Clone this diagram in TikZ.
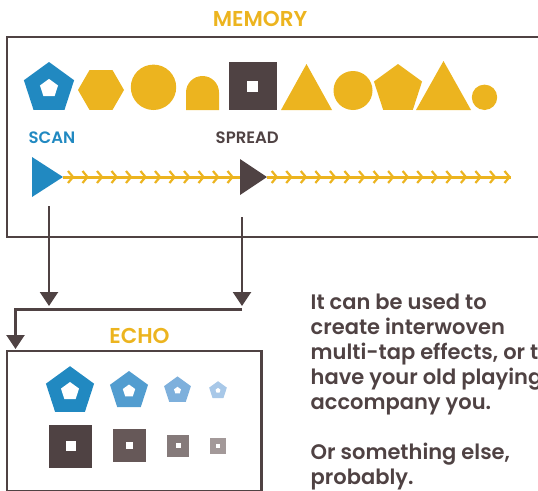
\documentclass[tikz,border=0pt]{standalone}
\usepackage{fontspec}
\setmainfont{Poppins}[BoldFont=Poppins SemiBold]
\usetikzlibrary{shapes.geometric,arrows.meta}

\definecolor{gold}{RGB}{236,180,31}
\definecolor{azure}{RGB}{33,137,193}
\definecolor{azureB}{RGB}{82,157,208}
\definecolor{azureC}{RGB}{126,176,220}
\definecolor{azureD}{RGB}{168,200,232}
\definecolor{umber}{RGB}{79,66,67}
\definecolor{umberB}{RGB}{102,88,88}
\definecolor{umberC}{RGB}{133,122,122}
\definecolor{umberD}{RGB}{163,153,153}

\tikzset{
  frame/.style={draw=umber, line width=2.5pt, inner sep=0pt, outer sep=0pt, anchor=north west},
  heading/.style={font=\bfseries\fontsize{21.5}{21.5}\selectfont, text=gold, inner sep=0pt, anchor=base},
  tag/.style={font=\bfseries\fontsize{16.5}{16.5}\selectfont, inner sep=0pt, anchor=base west},
  pent/.style={regular polygon, regular polygon sides=5, draw=none, inner sep=0pt, outer sep=0pt},
  hexa/.style={regular polygon, regular polygon sides=6, draw=none, inner sep=0pt, outer sep=0pt},
  blob/.style={circle, draw=none, inner sep=0pt, outer sep=0pt},
  sq/.style={rectangle, draw=none, inner sep=0pt, outer sep=0pt},
  conn/.style={draw=umber, line width=2.5pt, line join=miter,
    -{Triangle[length=14pt,width=18pt]}},
  flow/.style={draw=gold, line width=3pt},
  chev/.style={draw=gold, line width=2.2pt, line join=miter},
}

\begin{document}
\begin{tikzpicture}[x=1pt,y=-1pt]
\useasboundingbox (0,0) rectangle (538,490);
\clip (0,0) rectangle (538,490);

% ---------- MEMORY ----------
\node[heading] (memtitle) at (260,26) {MEMORY};
\node[frame, minimum width=563pt, minimum height=200pt] (memory) at (7,37) {};

% stored items, all sitting on one base line
\node[pent, minimum size=52.8pt, fill=azure] (m1) at (49,88.4) {};
\node[pent, minimum size=19pt, fill=white] (m1h) at (49,88.4) {};
\node[hexa, minimum size=46pt, fill=gold] (m2) at (101,90) {};
\node[blob, minimum size=45.4pt, fill=gold] (m3) at (153.5,87.3) {};
\fill[gold] (186,110) -- (186,92.5) arc (180:360:16.5) -- (219,110) -- cycle;
\node[sq, minimum size=48pt, fill=umber] (m5) at (252.5,86) {};
\node[sq, minimum size=11pt, fill=white] (m5h) at (252.5,86) {};
\fill[gold] (281,110) -- (306.5,64) -- (332,110) -- cycle;
\node[blob, minimum size=39pt, fill=gold] (m7) at (353,90.5) {};
\node[pent, minimum size=50.6pt, fill=gold] (m8) at (398,89.3) {};
\fill[gold] (416,110) -- (443.5,61) -- (471,110) -- cycle;
\node[blob, minimum size=25.4pt, fill=gold] (m10) at (484.5,97.3) {};

% ---------- read heads and tape ----------
\node[tag, text=azure] (scanlbl) at (28.5,143) {SCAN};
\node[tag, text=umber] (spreadlbl) at (215.5,143) {SPREAD};

\coordinate (scantip) at (63,177);
\coordinate (spreadback) at (240,177);
\coordinate (spreadtip) at (267,177);
\coordinate (tapeend) at (511,177);

\draw[flow] (scantip) -- (spreadback);
\draw[flow] (spreadtip) -- (tapeend);
\foreach \k in {0,...,11}
  \draw[chev] ({73+14.5*\k-5},171) -- ({73+14.5*\k},177) -- ({73+14.5*\k-5},183);
\foreach \k in {0,...,16}
  \draw[chev] ({276.7+14.55*\k-5},171) -- ({276.7+14.55*\k},177) -- ({276.7+14.55*\k-5},183);

\fill[azure] (32,157) -- (scantip) -- (32,197) -- cycle;
\fill[umber] (240,159) -- (spreadtip) -- (240,195) -- cycle;

% ---------- routing into ECHO ----------
\coordinate (scanfoot) at (49,206);
\coordinate (scanhit) at (49,306);
\coordinate (spreadfoot) at (242,217);
\coordinate (spreadhit) at (242,306);
\coordinate (busR) at (242,309.3);
\coordinate (busL) at (15.5,309.3);
\coordinate (echoin) at (15.5,349);

\draw[conn] (scanfoot) -- (scanhit);
\draw[conn] (spreadfoot) -- (spreadhit);
\draw[conn] (busR) -- (busL) -- (echoin);

% ---------- ECHO ----------
\node[heading] (echotitle) at (139.5,343) {ECHO};
\node[frame, minimum width=254.5pt, minimum height=140pt] (echo) at (7,351) {};

\node[pent, minimum size=50.6pt, fill=azure] (e1) at (70,391.5) {};
\node[pent, minimum size=19pt, fill=white] (e1h) at (70,391.5) {};
\node[pent, minimum size=40pt, fill=azureB] (e2) at (129,391) {};
\node[pent, minimum size=13pt, fill=white] (e2h) at (129,391) {};
\node[pent, minimum size=28.2pt, fill=azureC] (e3) at (177.5,390.5) {};
\node[pent, minimum size=7.4pt, fill=white] (e3h) at (177.5,390.5) {};
\node[pent, minimum size=18.6pt, fill=azureD] (e4) at (218,390.5) {};
\node[pent, minimum size=5.2pt, fill=white] (e4h) at (218,390.5) {};

\node[sq, minimum size=43pt, fill=umber] (s1) at (70.5,446) {};
\node[sq, minimum size=10pt, fill=white] (s1h) at (70.5,446) {};
\node[sq, minimum size=33pt, fill=umberB] (s2) at (129.5,445.5) {};
\node[sq, minimum size=7.5pt, fill=white] (s2h) at (129.5,445.5) {};
\node[sq, minimum size=22pt, fill=umberC] (s3) at (178,445.5) {};
\node[sq, minimum size=5pt, fill=white] (s3h) at (178,445.5) {};
\node[sq, minimum size=16pt, fill=umberD] (s4) at (218,446) {};
\node[sq, minimum size=4pt, fill=white] (s4h) at (218,446) {};

% ---------- note (base anchor sits on the last line) ----------
\node[anchor=base west, align=left, inner sep=0pt, text=umber,
      font=\bfseries\fontsize{21}{25}\selectfont] (note) at (310.5,484.3)
  {It can be used to\\create interwoven\\multi-tap effects, or to\\have your old playing\\accompany you.\\[25pt]Or something else,\\probably.};
\end{tikzpicture}
\end{document}
